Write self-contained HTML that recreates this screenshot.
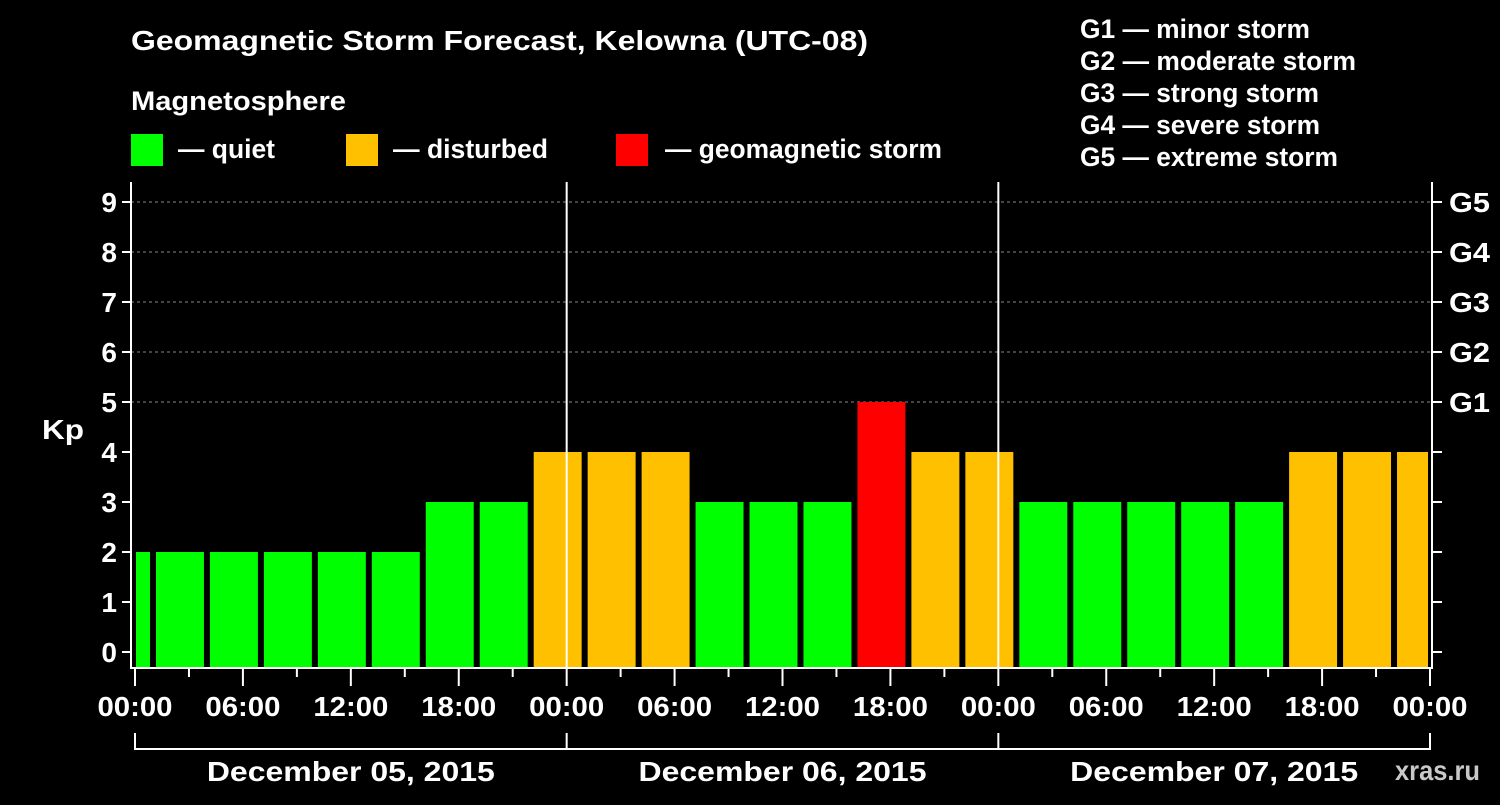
<!DOCTYPE html>
<html><head><meta charset="utf-8"><style>
body{margin:0;background:#000;width:1500px;height:800px;overflow:hidden}
svg text{font-family:"Liberation Sans",Arial,sans-serif;font-weight:bold;fill:#fff}
</style></head><body>
<svg id="c" width="1500" height="800" xmlns="http://www.w3.org/2000/svg">
<text x="131" y="50" font-size="28" textLength="737" lengthAdjust="spacingAndGlyphs">Geomagnetic Storm Forecast, Kelowna (UTC-08)</text>
<text x="131" y="110" font-size="27" textLength="215" lengthAdjust="spacingAndGlyphs">Magnetosphere</text>
<rect x="131" y="134" width="32" height="32" fill="#00ff00"/>
<text x="178" y="158" font-size="27" textLength="97" lengthAdjust="spacingAndGlyphs">— quiet</text>
<rect x="346" y="134" width="32" height="32" fill="#ffc000"/>
<text x="393" y="158" font-size="27" textLength="155" lengthAdjust="spacingAndGlyphs">— disturbed</text>
<rect x="616" y="134" width="32" height="32" fill="#ff0000"/>
<text x="665" y="158" font-size="27" textLength="277" lengthAdjust="spacingAndGlyphs">— geomagnetic storm</text>
<g font-size="27">
<text x="1080" y="38" textLength="230" lengthAdjust="spacingAndGlyphs">G1 — minor storm</text>
<text x="1080" y="70" textLength="276" lengthAdjust="spacingAndGlyphs">G2 — moderate storm</text>
<text x="1080" y="102" textLength="239" lengthAdjust="spacingAndGlyphs">G3 — strong storm</text>
<text x="1080" y="134" textLength="240" lengthAdjust="spacingAndGlyphs">G4 — severe storm</text>
<text x="1080" y="166" textLength="258" lengthAdjust="spacingAndGlyphs">G5 — extreme storm</text>
</g>
<text x="42" y="439" font-size="28" textLength="42" lengthAdjust="spacingAndGlyphs">Kp</text>
<text x="1395" y="780" font-size="28" textLength="85" lengthAdjust="spacingAndGlyphs" style="fill:#c8c8c8">xras.ru</text>
<g id="plot"></g>
</svg>
<script>
const kpValues=[2,2,2,2,2,2,3,3,4,4,4,3,3,3,5,4,4,3,3,3,3,3,4,4,4];
const yTicks=[0,1,2,3,4,5,6,7,8,9];
const gLabels=["G1","G2","G3","G4","G5"];
const xTickLabels=["00:00","06:00","12:00","18:00","00:00","06:00","12:00","18:00","00:00","06:00","12:00","18:00","00:00"];
const dayLabels=["December 05, 2015","December 06, 2015","December 07, 2015"];
const ns="http://www.w3.org/2000/svg";
const g=document.getElementById('plot');
const L=131,R=1432,T=182,B=668,X0=135,PXH=(1430-135)/72;
const xs=h=>X0+h*PXH;
const ys=v=>652-v*50;
function mk(t,a,p){const e=document.createElementNS(ns,t);for(const k in a)e.setAttribute(k,a[k]);(p||g).appendChild(e);return e;}
function col(v){return v>=5?"#ff0000":v>=4?"#ffc000":"#00ff00";}
for(let i=5;i<=9;i++){const l=mk('line',{x1:L,x2:R,y1:ys(i),y2:ys(i),stroke:'#888','stroke-dasharray':'3,3','stroke-width':1});

}
kpValues.forEach((v,i)=>{
 const s=xs(1+3*(i-1)); let x1=s+3, x2=s+3*PXH-3;
 x1=Math.max(x1,L+5); x2=Math.min(x2,R-4);
 const r=mk('rect',{x:x1,y:ys(v),width:x2-x1,height:B-ys(v),fill:col(v)});
 
 
});
[24,48].forEach(h=>{const l=mk('line',{x1:xs(h),x2:xs(h),y1:T,y2:B,stroke:'#fff','stroke-width':2});

});
const ax=mk('path',{d:`M${L},${T}V${B}H${R}V${T}`,stroke:'#fff','stroke-width':2,fill:'none'});


yTicks.forEach(v=>{
 mk('line',{x1:L-9,x2:L,y1:ys(v),y2:ys(v),stroke:'#fff','stroke-width':2});
 mk('line',{x1:R,x2:R+10,y1:ys(v),y2:ys(v),stroke:'#fff','stroke-width':2});
 const t=mk('text',{x:L-14,y:ys(v)+10,'font-size':28,'text-anchor':'end'});t.textContent=v;
 
 
});
gLabels.forEach((s,i)=>{const t=mk('text',{x:1449,y:ys(5+i)+10,'font-size':28,textLength:41,lengthAdjust:'spacingAndGlyphs'});t.textContent=s;
 
 });
for(let h=0;h<=72;h+=3){const maj=h%6===0;mk('line',{x1:xs(h),x2:xs(h),y1:B,y2:B+(maj?18:9),stroke:'#fff','stroke-width':2});}
xTickLabels.forEach((s,i)=>{const t=mk('text',{x:xs(i*6),y:716,'font-size':28,'text-anchor':'middle',textLength:75,lengthAdjust:'spacingAndGlyphs'});t.textContent=s;
 
 });
mk('path',{d:`M${xs(0)},733V749H${xs(72)}V733M${xs(24)},733V749M${xs(48)},733V749`,stroke:'#fff','stroke-width':2,fill:'none'});
dayLabels.forEach((s,i)=>{const t=mk('text',{x:xs(12+24*i),y:781,'font-size':28,'text-anchor':'middle',textLength:288,lengthAdjust:'spacingAndGlyphs'});t.textContent=s;
 
 });
</script>
</body></html>
